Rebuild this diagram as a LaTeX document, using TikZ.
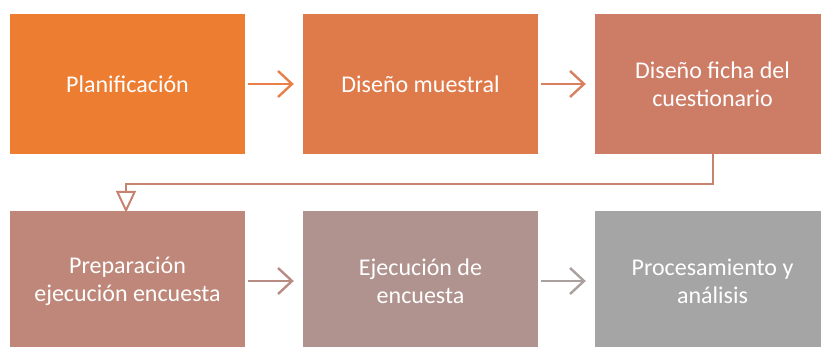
\documentclass[tikz,border=0pt]{standalone}
\usepackage{fontspec}
\setmainfont{Carlito}
\usetikzlibrary{arrows.meta}
\definecolor{cA}{HTML}{ED7D31}
\definecolor{cB}{HTML}{DF7B4B}
\definecolor{cC}{HTML}{CD7C66}
\definecolor{cD}{HTML}{BE8779}
\definecolor{cE}{HTML}{B0938F}
\definecolor{cF}{HTML}{A5A5A5}
\definecolor{aA}{HTML}{E98048}
\definecolor{aB}{HTML}{D98060}
\definecolor{aC}{HTML}{C88270}
\definecolor{aD}{HTML}{B88C83}
\definecolor{aE}{HTML}{AAA09E}
\tikzset{
  stepbox/.style={rectangle, minimum width=235pt, minimum height=140pt, inner sep=0pt,
    text=white, align=center, font=\fontsize{24pt}{28pt}\selectfont},
  flowarrow/.style={line width=2.4pt, -{Straight Barb[length=14pt, width=26pt, line width=2.4pt]}},
  turnarrow/.style={line width=2.2pt, -{Triangle[open, length=22pt, width=20pt, line width=2pt]}}
}
\begin{document}
\begin{tikzpicture}[x=1pt,y=-1pt]
\useasboundingbox (0,0) rectangle (821,347);
\clip (0,0) rectangle (821,347);
\node[stepbox, fill=cA] (p1) at (127.5,84) {Planificación};
\node[stepbox, fill=cB] (p2) at (420.5,84) {Diseño muestral};
\node[stepbox, fill=cC] (p3) at (712.5,84) {Diseño ficha del\\cuestionario};
\node[stepbox, fill=cD] (p4) at (127.5,281) {Preparación\\ejecución encuesta};
\node[stepbox, fill=cE] (p5) at (420.5,281) {Ejecución de\\encuesta};
\node[stepbox, fill=cF] (p6) at (712.5,281) {Procesamiento y\\análisis};
\draw[flowarrow, draw=aA] ([xshift=3pt]p1.east) -- ([xshift=-9pt]p2.west);
\draw[flowarrow, draw=aB] ([xshift=3pt]p2.east) -- ([xshift=-9pt]p3.west);
\draw[flowarrow, draw=aD] ([xshift=3pt]p4.east) -- ([xshift=-9pt]p5.west);
\draw[flowarrow, draw=aE] ([xshift=3pt]p5.east) -- ([xshift=-9pt]p6.west);
\coordinate (t1) at (713,184);
\coordinate (t2) at (126,184);
\draw[turnarrow, draw=aC] (p3.south -| t1) -- (t1) -- (t2) -- ([yshift=-2pt]p4.north -| t2);
\end{tikzpicture}
\end{document}
